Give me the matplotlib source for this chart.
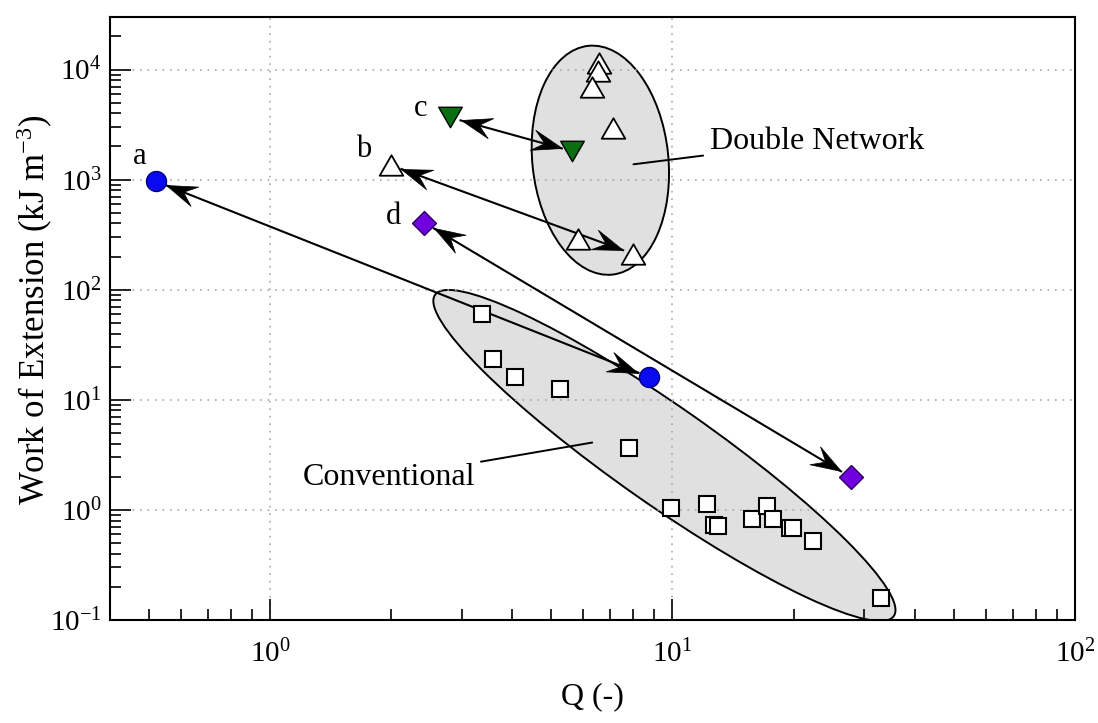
import matplotlib
matplotlib.use('Agg')
import numpy as np
import matplotlib.pyplot as plt
from matplotlib.patches import Ellipse
from matplotlib.path import Path
from matplotlib.markers import MarkerStyle
from matplotlib.transforms import ScaledTranslation, Affine2D

plt.rcParams['font.family'] = 'Liberation Serif'
plt.rcParams['mathtext.fontset'] = 'custom'
plt.rcParams['mathtext.rm'] = 'Liberation Serif'
plt.rcParams['mathtext.it'] = 'Liberation Serif:italic'
plt.rcParams['axes.unicode_minus'] = False

# conventional gels (open squares)
conv_q = [3.36, 3.58, 4.07, 5.27, 7.82, 9.93, 12.2, 12.7, 13.0, 15.8, 17.2, 17.8, 19.6, 19.95, 22.3, 33.0]
conv_w = [60.7, 23.4, 16.2, 12.6, 3.64, 1.05, 1.14, 0.736, 0.71, 0.82, 1.08, 0.83, 0.686, 0.69, 0.52, 0.157]

# double network gels (open triangles)
dn_q = [6.58, 6.55, 6.32, 7.13, 5.84, 8.0, 2.0]
dn_w = [11400, 9600, 6870, 2920, 288, 211, 1350]

# linked pairs a-d : (start, end)
a_q = [0.52, 8.73]
a_w = [968, 16.2]
b_q = [2.0, 8.0]
b_w = [1350, 211]
c_q = [2.80, 5.64]
c_w = [3670, 1806]
d_q = [2.42, 27.7]
d_w = [405, 1.99]

fig = plt.figure(figsize=(10.98, 7.23), dpi=100)
ax = fig.add_axes([0.100, 0.1425, 0.879, 0.834])
ax.set_xscale('log')
ax.set_yscale('log')
ax.set_xlim(0.4, 100)
ax.set_ylim(0.1, 3e4)

# shaded regions, drawn in screen units around a data centre
def region(cx, cy, w, h, ang):
    tr = fig.dpi_scale_trans + ScaledTranslation(cx, cy, ax.transData)
    e = Ellipse((0, 0), w, h, angle=ang, facecolor='#e0e0e0', edgecolor='black',
                lw=1.4, transform=tr, zorder=1)
    ax.add_patch(e)

region(6.62, 1500, 1.36, 2.30, 6)
region(9.55, 3.12, 5.60, 0.98, -35)

ax.grid(which='major', ls=(0, (1, 3.5)), color='#a8a8a8', lw=1.2)

tri_up = Path([(0, 0.866), (-1, -0.866), (1, -0.866), (0, 0.866)], closed=True)
tri_dn = Path([(0, -0.866), (-1, 0.866), (1, 0.866), (0, -0.866)], closed=True)

ax.plot(conv_q, conv_w, ls='none', marker='s', ms=12.2, mfc='white', mec='black', mew=1.5, zorder=3)
ax.plot(dn_q, dn_w, ls='none', marker=tri_up, ms=17, mfc='white', mec='black', mew=1.3, zorder=3)
ax.plot(a_q, a_w, ls='none', marker='o', ms=14.4, mfc='#0a0af0', mec='#000080', mew=1, zorder=3)
ax.plot(c_q, c_w, ls='none', marker=tri_dn, ms=17, mfc='#0b6e10', mec='black', mew=1, zorder=3)
ax.plot(d_q, d_w, ls='none', marker='D', ms=12.5, mfc='#7000e0', mec='#300060', mew=1, zorder=3)

# double headed links with swept-back heads
head = Path([(0, 0), (-1, 0.34), (-0.6, 0), (-1, -0.34), (0, 0)],
            [Path.MOVETO, Path.LINETO, Path.LINETO, Path.LINETO, Path.CLOSEPOLY])

def link(qs, ws, gap=11):
    p = ax.transData.transform(np.column_stack([qs, ws]))
    d = p[1] - p[0]
    u = d / np.hypot(*d)
    tips = np.array([p[0] + u * gap, p[1] - u * gap])
    tq, tw = ax.transData.inverted().transform(tips).T
    ax.plot(tq, tw, color='black', lw=1.5, zorder=2.5)
    ang = np.degrees(np.arctan2(d[1], d[0]))
    for x, y, a in zip(tq, tw, [ang + 180, ang]):
        m = MarkerStyle(head, transform=Affine2D().rotate_deg(a))
        ax.plot(x, y, marker=m, ms=44, color='black', mew=0.5, zorder=2.6)

for qs, ws in [(a_q, a_w), (b_q, b_w), (c_q, c_w), (d_q, d_w)]:
    link(qs, ws)

# letters next to the first point of each pair
for lbl, q, w, off in [('a', a_q[0], a_w[0], (-16, 25)), ('b', b_q[0], b_w[0], (-27, 16)),
                       ('c', c_q[0], c_w[0], (-29, 9)), ('d', d_q[0], d_w[0], (-31, 6))]:
    ax.annotate(lbl, (q, w), xytext=off, textcoords='offset pixels', ha='center', va='center', fontsize=22)

ax.annotate('Double Network', xy=(8.0, 1377), xytext=(12.4, 2230), ha='left', va='center', fontsize=23,
            arrowprops=dict(arrowstyle='-', color='black', lw=1.4, shrinkA=3, shrinkB=0))
ax.annotate('Conventional', xy=(6.32, 4.09), xytext=(3.24, 1.97), ha='right', va='center', fontsize=23,
            arrowprops=dict(arrowstyle='-', color='black', lw=1.4, shrinkA=2, shrinkB=0))

ax.set_xlabel('Q (-)', fontsize=23, labelpad=10)
ax.set_ylabel('Work of Extension (kJ m$^{-3}$)', fontsize=25)
ax.yaxis.set_label_coords(-0.057, 0.515)

ax.tick_params(which='both', direction='in', top=False, right=False, width=1.2, labelsize=21)
ax.tick_params(which='major', length=15)
ax.tick_params(which='minor', length=8)
ax.tick_params(axis='x', pad=14)
ax.tick_params(axis='y', pad=6)
for s in ax.spines.values():
    s.set_linewidth(1.5)

fig.savefig('out.png', dpi=100)
